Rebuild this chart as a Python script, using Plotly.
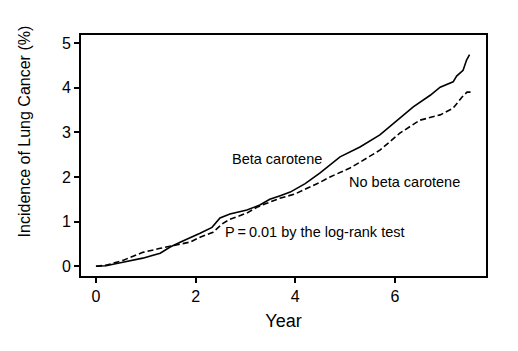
import plotly.graph_objects as go

# Data
beta_x = [0, 0.2, 0.54, 0.94, 1.29, 1.49, 1.7, 1.89, 2.09, 2.33, 2.49, 2.69, 3.03, 3.29, 3.49, 3.7,
          3.9, 4.2, 4.5, 4.9, 5.3, 5.7, 6.1, 6.37, 6.71, 6.91, 7.17, 7.24, 7.37, 7.44, 7.5]
beta_y = [0, 0.01, 0.09, 0.18, 0.29, 0.43, 0.54, 0.63, 0.74, 0.87, 1.08, 1.17, 1.26, 1.37, 1.50, 1.58,
          1.66, 1.85, 2.09, 2.45, 2.67, 2.94, 3.32, 3.57, 3.83, 4.01, 4.13, 4.26, 4.39, 4.62, 4.74]

nobeta_x = [0, 0.2, 0.54, 0.94, 1.29, 1.49, 1.89, 2.09, 2.35, 2.55, 2.69, 3.03, 3.23, 3.43, 3.69,
            4.0, 4.3, 4.5, 4.7, 4.9, 5.1, 5.3, 5.7, 6.1, 6.5, 6.91, 7.17, 7.35, 7.45, 7.53]
nobeta_y = [0, 0.02, 0.13, 0.31, 0.40, 0.45, 0.54, 0.65, 0.76, 0.96, 1.05, 1.19, 1.32, 1.41, 1.52,
            1.62, 1.77, 1.88, 2.0, 2.1, 2.2, 2.33, 2.6, 2.98, 3.27, 3.39, 3.54, 3.79, 3.9, 3.9]

x_ticks = [0, 2, 4, 6]
y_ticks = [0, 1, 2, 3, 4, 5]

FONT = "Liberation Sans, Arial, sans-serif"

fig = go.Figure()
fig.add_trace(go.Scatter(x=beta_x, y=beta_y, mode="lines",
                         line=dict(color="black", width=1.6), name="Beta carotene"))
fig.add_trace(go.Scatter(x=nobeta_x, y=nobeta_y, mode="lines",
                         line=dict(color="black", width=1.6, dash="6px,3px"), name="No beta carotene"))

fig.add_annotation(x=3.64, y=2.40, text="Beta carotene", showarrow=False,
                   font=dict(family=FONT, size=14.5, color="black"))
fig.add_annotation(x=6.2, y=1.88, text="No beta carotene", showarrow=False,
                   font=dict(family=FONT, size=14.5, color="black"))
fig.add_annotation(x=4.4, y=0.76, text="P\u2009=\u20090.01 by the log-rank test", showarrow=False,
                   font=dict(family=FONT, size=14.5, color="black"))

# Y-axis title (placed higher than the plot centre, as in the reference)
fig.add_annotation(xref="paper", yref="paper", x=0, xshift=-57, xanchor="center",
                   y=0.60, yanchor="middle",
                   text="Incidence of Lung Cancer (%)", textangle=-90, showarrow=False,
                   font=dict(family=FONT, size=16, color="black"))

fig.update_layout(
    width=518, height=351,
    margin=dict(l=81, r=32, t=35, b=75),
    paper_bgcolor="white", plot_bgcolor="white",
    showlegend=False,
    font=dict(family=FONT, color="black"),
    xaxis=dict(range=[-0.3, 7.83], tickvals=x_ticks, ticks="outside", ticklen=5, tickwidth=1.5,
               tickcolor="black", showline=True, linecolor="black", linewidth=2, mirror=True,
               showgrid=False, zeroline=False, tickfont=dict(size=16),
               title=dict(text="Year", font=dict(size=18), standoff=10)),
    yaxis=dict(range=[-0.22, 5.18], tickvals=y_ticks, ticks="outside", ticklen=5, tickwidth=1.5,
               tickcolor="black", showline=True, linecolor="black", linewidth=2, mirror=True,
               showgrid=False, zeroline=False, tickfont=dict(size=16)),
)

fig.write_html("out.html")
